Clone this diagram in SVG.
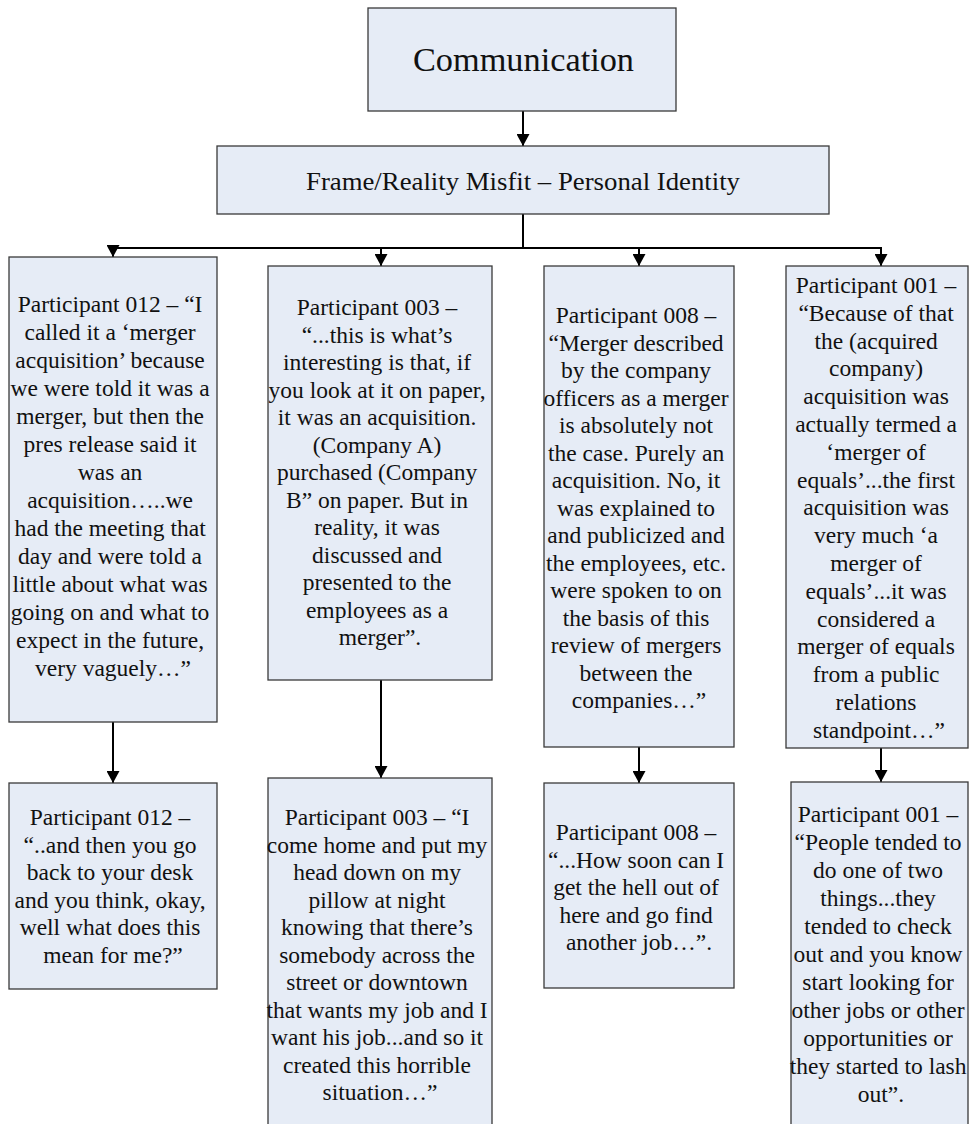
<svg xmlns="http://www.w3.org/2000/svg" width="969" height="1124" viewBox="0 0 969 1124">
<defs>
<marker id="arr" markerUnits="userSpaceOnUse" markerWidth="12" markerHeight="13" refX="12" refY="6.5" orient="auto">
<path d="M0,0 L12,6.5 L0,13 z" fill="#000"/>
</marker>
<style>
.box{fill:#E6ECF6;stroke:#3a3a3a;stroke-width:1.3}
.t{font-family:"Liberation Serif","Times New Roman",serif;font-size:23.5px;fill:#111;text-anchor:middle}
.c{stroke:#000;stroke-width:2;fill:none}
</style>
</defs>
<rect width="969" height="1124" fill="#fff"/>

<g id="connectors">
<line class="c" x1="523" y1="111" x2="523" y2="146" marker-end="url(#arr)"/>
<line class="c" x1="523" y1="214" x2="523" y2="248"/>
<line class="c" x1="112" y1="248" x2="882" y2="248"/>
<line class="c" x1="113" y1="248" x2="113" y2="257" marker-end="url(#arr)"/>
<line class="c" x1="381" y1="248" x2="381" y2="266" marker-end="url(#arr)"/>
<line class="c" x1="639" y1="248" x2="639" y2="266" marker-end="url(#arr)"/>
<line class="c" x1="881" y1="248" x2="881" y2="266" marker-end="url(#arr)"/>
<line class="c" x1="113" y1="722" x2="113" y2="783" marker-end="url(#arr)"/>
<line class="c" x1="381" y1="680" x2="381" y2="778" marker-end="url(#arr)"/>
<line class="c" x1="639" y1="747" x2="639" y2="783" marker-end="url(#arr)"/>
<line class="c" x1="881" y1="748" x2="881" y2="782" marker-end="url(#arr)"/>
</g>

<g id="communication">
<rect class="box" x="368" y="8" width="308" height="103"/>
<text x="523.5" y="71" font-family="Liberation Serif, serif" font-size="33" text-anchor="middle" fill="#111" textLength="221" lengthAdjust="spacingAndGlyphs">Communication</text>
</g>

<g id="frame">
<rect class="box" x="217" y="146" width="612" height="68"/>
<text x="523" y="190" font-family="Liberation Serif, serif" font-size="26" text-anchor="middle" fill="#111" textLength="434" lengthAdjust="spacingAndGlyphs">Frame/Reality Misfit – Personal Identity</text>
</g>

<g id="p012a">
<rect class="box" x="9" y="257" width="208" height="465"/>
<text class="t" y="312">
<tspan x="113">Participant 012 – “I</tspan>
<tspan x="113" dy="28">called it a ‘merger</tspan>
<tspan x="113" dy="28">acquisition’ because</tspan>
<tspan x="113" dy="28">we were told it was a</tspan>
<tspan x="113" dy="28">merger, but then the</tspan>
<tspan x="113" dy="28">pres release said it</tspan>
<tspan x="113" dy="28">was an</tspan>
<tspan x="113" dy="28">acquisition…..we</tspan>
<tspan x="113" dy="28">had the meeting that</tspan>
<tspan x="113" dy="28">day and were told a</tspan>
<tspan x="113" dy="28">little about what was</tspan>
<tspan x="113" dy="28">going on and what to</tspan>
<tspan x="113" dy="28">expect in the future,</tspan>
<tspan x="113" dy="28">very vaguely…”</tspan>
</text>
</g>

<g id="p003a">
<rect class="box" x="268" y="266" width="224" height="414"/>
<text class="t" y="315">
<tspan x="380">Participant 003 –</tspan>
<tspan x="380" dy="27.5">“...this is what’s</tspan>
<tspan x="380" dy="27.5">interesting is that, if</tspan>
<tspan x="380" dy="27.5">you look at it on paper,</tspan>
<tspan x="380" dy="27.5">it was an acquisition.</tspan>
<tspan x="380" dy="27.5">(Company A)</tspan>
<tspan x="380" dy="27.5">purchased (Company</tspan>
<tspan x="380" dy="27.5">B” on paper. But in</tspan>
<tspan x="380" dy="27.5">reality, it was</tspan>
<tspan x="380" dy="27.5">discussed and</tspan>
<tspan x="380" dy="27.5">presented to the</tspan>
<tspan x="380" dy="27.5">employees as a</tspan>
<tspan x="380" dy="27.5">merger”.</tspan>
</text>
</g>

<g id="p008a">
<rect class="box" x="544" y="266" width="190" height="481"/>
<text class="t" y="323">
<tspan x="639">Participant 008 –</tspan>
<tspan x="639" dy="27.5">“Merger described</tspan>
<tspan x="639" dy="27.5">by the company</tspan>
<tspan x="639" dy="27.5">officers as a merger</tspan>
<tspan x="639" dy="27.5">is absolutely not</tspan>
<tspan x="639" dy="27.5">the case. Purely an</tspan>
<tspan x="639" dy="27.5">acquisition. No, it</tspan>
<tspan x="639" dy="27.5">was explained to</tspan>
<tspan x="639" dy="27.5">and publicized and</tspan>
<tspan x="639" dy="27.5">the employees, etc.</tspan>
<tspan x="639" dy="27.5">were spoken to on</tspan>
<tspan x="639" dy="27.5">the basis of this</tspan>
<tspan x="639" dy="27.5">review of mergers</tspan>
<tspan x="639" dy="27.5">between the</tspan>
<tspan x="639" dy="27.5">companies…”</tspan>
</text>
</g>

<g id="p001a">
<rect class="box" x="786" y="266" width="182" height="482"/>
<text class="t" y="293">
<tspan x="879">Participant 001 –</tspan>
<tspan x="879" dy="27.8">“Because of that</tspan>
<tspan x="879" dy="27.8">the (acquired</tspan>
<tspan x="879" dy="27.8">company)</tspan>
<tspan x="879" dy="27.8">acquisition was</tspan>
<tspan x="879" dy="27.8">actually termed a</tspan>
<tspan x="879" dy="27.8">‘merger of</tspan>
<tspan x="879" dy="27.8">equals’...the first</tspan>
<tspan x="879" dy="27.8">acquisition was</tspan>
<tspan x="879" dy="27.8">very much ‘a</tspan>
<tspan x="879" dy="27.8">merger of</tspan>
<tspan x="879" dy="27.8">equals’...it was</tspan>
<tspan x="879" dy="27.8">considered a</tspan>
<tspan x="879" dy="27.8">merger of equals</tspan>
<tspan x="879" dy="27.8">from a public</tspan>
<tspan x="879" dy="27.8">relations</tspan>
<tspan x="879" dy="27.8">standpoint…”</tspan>
</text>
</g>

<g id="p012b">
<rect class="box" x="9" y="783" width="208" height="206"/>
<text class="t" y="825">
<tspan x="113">Participant 012 –</tspan>
<tspan x="113" dy="27.5">“..and then you go</tspan>
<tspan x="113" dy="27.5">back to your desk</tspan>
<tspan x="113" dy="27.5">and you think, okay,</tspan>
<tspan x="113" dy="27.5">well what does this</tspan>
<tspan x="113" dy="27.5">mean for me?”</tspan>
</text>
</g>

<g id="p003b">
<rect class="box" x="268" y="778" width="224" height="360"/>
<text class="t" y="825">
<tspan x="380">Participant 003 – “I</tspan>
<tspan x="380" dy="27.5">come home and put my</tspan>
<tspan x="380" dy="27.5">head down on my</tspan>
<tspan x="380" dy="27.5">pillow at night</tspan>
<tspan x="380" dy="27.5">knowing that there’s</tspan>
<tspan x="380" dy="27.5">somebody across the</tspan>
<tspan x="380" dy="27.5">street or downtown</tspan>
<tspan x="380" dy="27.5">that wants my job and I</tspan>
<tspan x="380" dy="27.5">want his job...and so it</tspan>
<tspan x="380" dy="27.5">created this horrible</tspan>
<tspan x="380" dy="27.5">situation…”</tspan>
</text>
</g>

<g id="p008b">
<rect class="box" x="544" y="783" width="190" height="205"/>
<text class="t" y="840">
<tspan x="639">Participant 008 –</tspan>
<tspan x="639" dy="27.5">“...How soon can I</tspan>
<tspan x="639" dy="27.5">get the hell out of</tspan>
<tspan x="639" dy="27.5">here and go find</tspan>
<tspan x="639" dy="27.5">another job…”.</tspan>
</text>
</g>

<g id="p001b">
<rect class="box" x="791" y="782" width="177" height="360"/>
<text class="t" y="822">
<tspan x="881">Participant 001 –</tspan>
<tspan x="881" dy="28">“People tended to</tspan>
<tspan x="881" dy="28">do one of two</tspan>
<tspan x="881" dy="28">things...they</tspan>
<tspan x="881" dy="28">tended to check</tspan>
<tspan x="881" dy="28">out and you know</tspan>
<tspan x="881" dy="28">start looking for</tspan>
<tspan x="881" dy="28">other jobs or other</tspan>
<tspan x="881" dy="28">opportunities or</tspan>
<tspan x="881" dy="28">they started to lash</tspan>
<tspan x="881" dy="28">out”.</tspan>
</text>
</g>
</svg>
